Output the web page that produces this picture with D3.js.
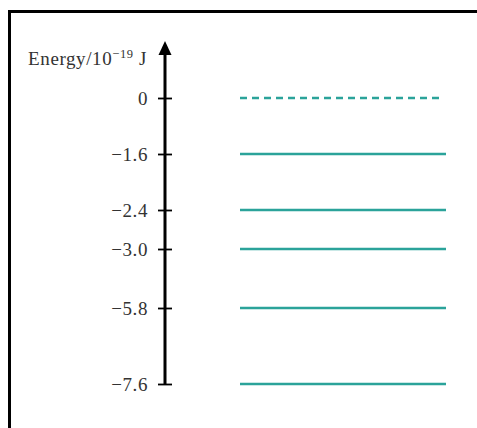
<!DOCTYPE html>
<html>
<head>
<meta charset="utf-8">
<script src="https://cdn.jsdelivr.net/npm/d3@7"></script>
<style>
  body { margin: 0; background: #fff; }
  svg { display: block; }
</style>
</head>
<body>
<div id="chart"></div>
<script>
/* DATA */
const levels = [0, -1.6, -2.4, -3.0, -5.8, -7.6];
const levelLabels = ["0", "\u22121.6", "\u22122.4", "\u22123.0", "\u22125.8", "\u22127.6"];
const dashedLevels = [0];

/* LAYOUT */
const width = 477, height = 428;
const axisX = 165;
const lineX0 = 240, lineX1 = 446;
// schematic (not to scale) positions for each level
const levelY = [98, 154, 210, 249, 308, 384];
const teal = "#2ba39a";
const serif = "'Liberation Serif', 'Times New Roman', serif";

const svg = d3.select("#chart").append("svg")
  .attr("width", width)
  .attr("height", height);

// frame (top + left only)
svg.append("path")
  .attr("d", `M9.5,${height} V11.5 H${width}`)
  .attr("fill", "none")
  .attr("stroke", "#000")
  .attr("stroke-width", 3);

const yScale = d3.scaleLinear().domain(levels).range(levelY);

// axis
const yAxis = d3.axisLeft(yScale)
  .tickValues(levels)
  .tickFormat((d, i) => levelLabels[i])
  .tickSize(7)
  .tickPadding(10);

const g = svg.append("g")
  .attr("transform", `translate(${axisX},0)`)
  .call(yAxis)
  .attr("font-family", serif)
  .attr("font-size", 19);

g.select(".domain").remove();
g.selectAll(".tick line")
  .attr("x1", -7).attr("x2", 7)
  .attr("stroke", "#000")
  .attr("stroke-width", 1.8);
g.selectAll(".tick text")
  .attr("fill", "#333")
  .attr("letter-spacing", 0.6);

// axis line with arrow
g.append("line")
  .attr("x1", 0).attr("x2", 0)
  .attr("y1", yScale(d3.min(levels)) + 1)
  .attr("y2", 52)
  .attr("stroke", "#000")
  .attr("stroke-width", 3);
g.append("path")
  .attr("d", "M0,41 L6.5,55 L-6.5,55 Z")
  .attr("fill", "#000");

// axis title
const title = svg.append("text")
  .attr("x", 147)
  .attr("y", 65)
  .attr("text-anchor", "end")
  .attr("font-family", serif)
  .attr("font-size", 19)
  .attr("letter-spacing", 0.6)
  .attr("fill", "#333");
title.append("tspan").text("Energy/10");
title.append("tspan").attr("font-size", 12.5).attr("dy", -7).text("\u221219");
title.append("tspan").attr("dy", 7).text(" J");

// energy levels
svg.selectAll("line.level")
  .data(levels)
  .join("line")
  .attr("class", "level")
  .attr("x1", lineX0)
  .attr("x2", d => dashedLevels.includes(d) ? lineX1 - 4 : lineX1)
  .attr("y1", d => yScale(d))
  .attr("y2", d => yScale(d))
  .attr("stroke", teal)
  .attr("stroke-width", 2.5)
  .attr("stroke-dasharray", d => dashedLevels.includes(d) ? "7,5" : null);
</script>
</body>
</html>
